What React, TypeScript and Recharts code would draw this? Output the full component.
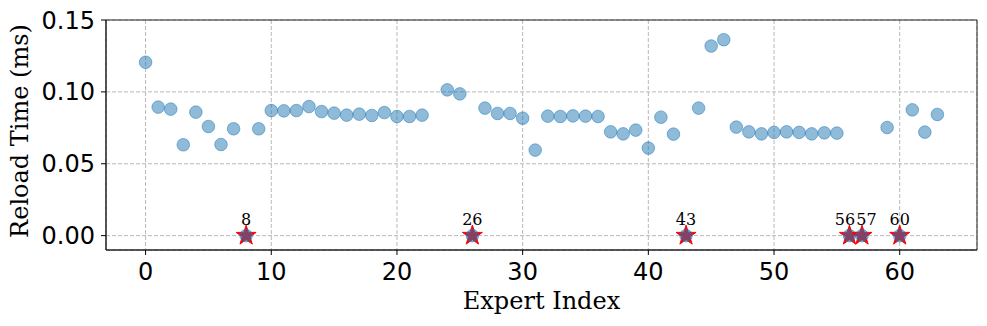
import React from "react";
import {
  CartesianGrid,
  ReferenceArea,
  Scatter,
  ScatterChart,
  XAxis,
  YAxis,
} from "recharts";

// reload time per expert (ms); 0 = not reloaded (starred), null = no sample
const reloadTimes: (number | null)[] = [
  0.1206, 0.0894, 0.088, 0.0632, 0.0859, 0.0759, 0.0634, 0.0743, 0, 0.0743,
  0.087, 0.0868, 0.087, 0.0898, 0.0863, 0.0852, 0.0838, 0.0845, 0.0836, 0.0856,
  0.0829, 0.0829, 0.0838, null, 0.1014, 0.0986, 0, 0.0887, 0.085, 0.085,
  0.0817, 0.0595, 0.0831, 0.0829, 0.0833, 0.0831, 0.0829, 0.0722, 0.0708, 0.0734,
  0.0609, 0.0824, 0.0706, 0, 0.0887, 0.1319, 0.1363, 0.0755, 0.0722, 0.0708,
  0.0718, 0.0722, 0.0718, 0.0708, 0.0715, 0.0713, 0, 0, null, 0.0752,
  0, 0.0875, 0.072, 0.0843,
];

const xTicks = [0, 10, 20, 30, 40, 50, 60];
const yTicks = [0, 0.05, 0.1, 0.15];
const xDomain: [number, number] = [-3.15, 66.15];
const yDomain: [number, number] = [-0.01, 0.15];

const points = reloadTimes
  .map((v, i) => ({ x: i, y: v }))
  .filter((d) => d.y !== null && d.y > 0);
const stars = reloadTimes
  .map((v, i) => ({ x: i, y: v }))
  .filter((d) => d.y === 0);
const starIdx = stars.map((d) => d.x);

const BLUE = "#1f77b4";
const tickFont = { fontSize: 24, fontFamily: "DejaVu Sans", fill: "#000" };

const Dot = (props: any) => {
  const { cx, cy } = props;
  return (
    <circle
      cx={cx}
      cy={cy}
      r={6.3}
      fill={BLUE}
      fillOpacity={0.5}
      stroke={BLUE}
      strokeOpacity={0.5}
      strokeWidth={1}
    />
  );
};

const Star = (props: any) => {
  const { cx, cy, payload } = props;
  const R = 10.5;
  const r = R * 0.382;
  const pts: string[] = [];
  for (let k = 0; k < 10; k++) {
    const rad = k % 2 === 0 ? R : r;
    const a = -Math.PI / 2 + (k * Math.PI) / 5;
    pts.push(`${cx + rad * Math.cos(a)},${cy + rad * Math.sin(a)}`);
  }
  // neighbouring stars: push labels apart so they sit side by side
  let dx = 0;
  if (starIdx.includes(payload.x + 1)) dx = -4.5;
  if (starIdx.includes(payload.x - 1)) dx = 4.5;
  return (
    <g>
      <polygon points={pts.join(" ")} fill="#ff0000" stroke="#ff0000" strokeWidth={1} />
      <circle cx={cx} cy={cy} r={6.3} fill={BLUE} fillOpacity={0.55} stroke={BLUE} strokeOpacity={0.5} />
      <text
        x={cx + dx}
        y={cy - 11}
        textAnchor="middle"
        fontSize={16}
        fontFamily="DejaVu Serif"
        fill="#000"
      >
        {payload.x}
      </text>
    </g>
  );
};

const YLabel = (props: any) => {
  const { viewBox } = props;
  const cy = viewBox.y + viewBox.height / 2 - 4;
  const x = 28;
  return (
    <text
      x={x}
      y={cy}
      transform={`rotate(-90 ${x} ${cy})`}
      textAnchor="middle"
      fontSize={24}
      fontFamily="DejaVu Serif"
      fill="#000"
    >
      Reload Time (ms)
    </text>
  );
};

const App: React.FC = () => {
  return (
    <div
      style={{
        position: "absolute",
        left: 0,
        top: 0,
        width: 987,
        height: 326,
        background: "#fff",
      }}
    >
      <ScatterChart
        width={987}
        height={326}
        margin={{ top: 20, right: 10, bottom: 0, left: 0 }}
      >
        <CartesianGrid stroke="#b8b8b8" strokeDasharray="4 2" />
        <XAxis
          type="number"
          dataKey="x"
          domain={xDomain}
          ticks={xTicks}
          allowDataOverflow
          height={76}
          tick={tickFont}
          tickSize={5}
          tickMargin={8}
          tickLine={{ stroke: "#000" }}
          axisLine={{ stroke: "#222" }}
          label={{
            value: "Expert Index",
            position: "insideBottom",
            offset: 17,
            fontSize: 24,
            fontFamily: "DejaVu Serif",
            fill: "#000",
          }}
        />
        <YAxis
          type="number"
          dataKey="y"
          domain={yDomain}
          ticks={yTicks}
          allowDataOverflow
          width={106}
          tick={tickFont}
          tickSize={5}
          tickMargin={6}
          tickLine={{ stroke: "#000" }}
          axisLine={{ stroke: "#222" }}
          tickFormatter={(v: number) => v.toFixed(2)}
          label={<YLabel />}
        />
        <ReferenceArea
          x1={xDomain[0]}
          x2={xDomain[1]}
          y1={yDomain[0]}
          y2={yDomain[1]}
          fill="none"
          stroke="#222"
          strokeWidth={1}
        />
        <Scatter data={points} shape={<Dot />} isAnimationActive={false} />
        <Scatter data={stars} shape={<Star />} isAnimationActive={false} />
      </ScatterChart>
    </div>
  );
};

export default App;
